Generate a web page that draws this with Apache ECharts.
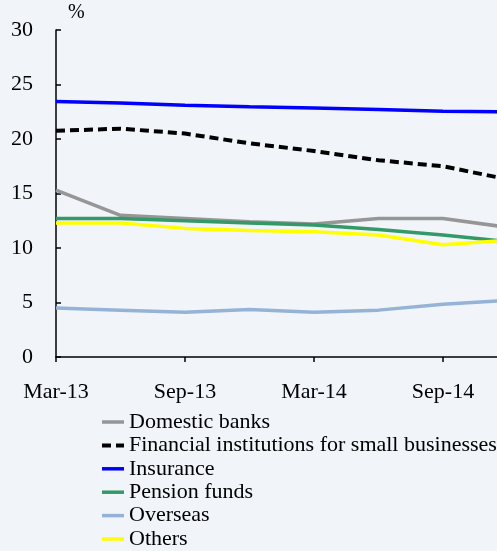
<!DOCTYPE html>
<html>
<head>
<meta charset="utf-8">
<script src="https://cdn.jsdelivr.net/npm/echarts@6/dist/echarts.min.js"></script>
<style>
html,body{margin:0;padding:0;background:#F1F4F9;}
#c{width:497px;height:551px;}
</style>
</head>
<body>
<div id="c"></div>
<script>
const categories = ['Mar-13','Jun-13','Sep-13','Dec-13','Mar-14','Jun-14','Sep-14','Dec-14'];
const domesticBanks = [15.3, 13.0, 12.7, 12.4, 12.2, 12.7, 12.7, 11.9];
const smallBusinessInst = [20.75, 20.95, 20.5, 19.6, 18.9, 18.05, 17.5, 16.3];
const insurance = [23.45, 23.3, 23.1, 22.95, 22.85, 22.7, 22.55, 22.5];
const pensionFunds = [12.7, 12.7, 12.5, 12.3, 12.1, 11.7, 11.2, 10.6];
const overseas = [4.5, 4.3, 4.1, 4.35, 4.1, 4.3, 4.85, 5.2];
const others = [12.3, 12.3, 11.8, 11.6, 11.5, 11.2, 10.3, 10.7];
const yTicks = {min: 0, max: 30, interval: 5};

const font = 'Liberation Serif, Times New Roman, serif';
const chart = echarts.init(document.getElementById('c'));
function line(name, data, color, type, width) {
  return {
    name, type: 'line', data, symbol: 'none', showSymbol: false,
    lineStyle: {color, width: width || 3.5, type: type || 'solid', cap: 'butt'},
    itemStyle: {color},
    emphasis: {disabled: true}, animation: false
  };
}
const seriesList = [
  line('Domestic banks', domesticBanks, '#969696'),
  line('Financial institutions for small businesses', smallBusinessInst, '#000000', [9, 5], 4),
  line('Insurance', insurance, '#0000FF'),
  line('Pension funds', pensionFunds, '#339966'),
  line('Overseas', overseas, '#95B3D7'),
  line('Others', others, '#FFFF00')
];
chart.setOption({
  backgroundColor: '#F1F4F9',
  animation: false,
  grid: {left: 56, top: 30, width: 451.5, height: 327, containLabel: false, outerBoundsMode: 'none'},
  graphic: [{type: 'text', left: 68, top: 3, style: {text: '%', font: '20px ' + font, fill: '#000'}}],
  legend: {
    orient: 'vertical', left: 100, top: 411, padding: 0, height: 200,
    itemWidth: 22, itemHeight: 12, itemGap: 1.4,
    itemStyle: {opacity: 0},
    data: seriesList.map(s => ({name: s.name, lineStyle: {width: s.lineStyle.width}})),
    textStyle: {fontFamily: font, fontSize: 22, color: '#000', lineHeight: 22},
    selectedMode: false
  },
  xAxis: {
    type: 'category', data: categories, boundaryGap: false,
    axisLine: {lineStyle: {color: '#000', width: 1.5}},
    axisTick: {show: true, interval: 1, length: 5, inside: false, lineStyle: {color: '#000', width: 1.5}},
    axisLabel: {interval: 1, margin: 24, fontFamily: font, fontSize: 22, color: '#000'},
    splitLine: {show: false}
  },
  yAxis: {
    type: 'value', min: yTicks.min, max: yTicks.max, interval: yTicks.interval,
    axisLine: {show: true, lineStyle: {color: '#000', width: 1.5}},
    axisTick: {show: true, inside: true, length: 5, lineStyle: {color: '#000', width: 1.5}},
    axisLabel: {margin: 23, fontFamily: font, fontSize: 22, color: '#000'},
    splitLine: {show: false}
  },
  series: seriesList
});
</script>
</body>
</html>
